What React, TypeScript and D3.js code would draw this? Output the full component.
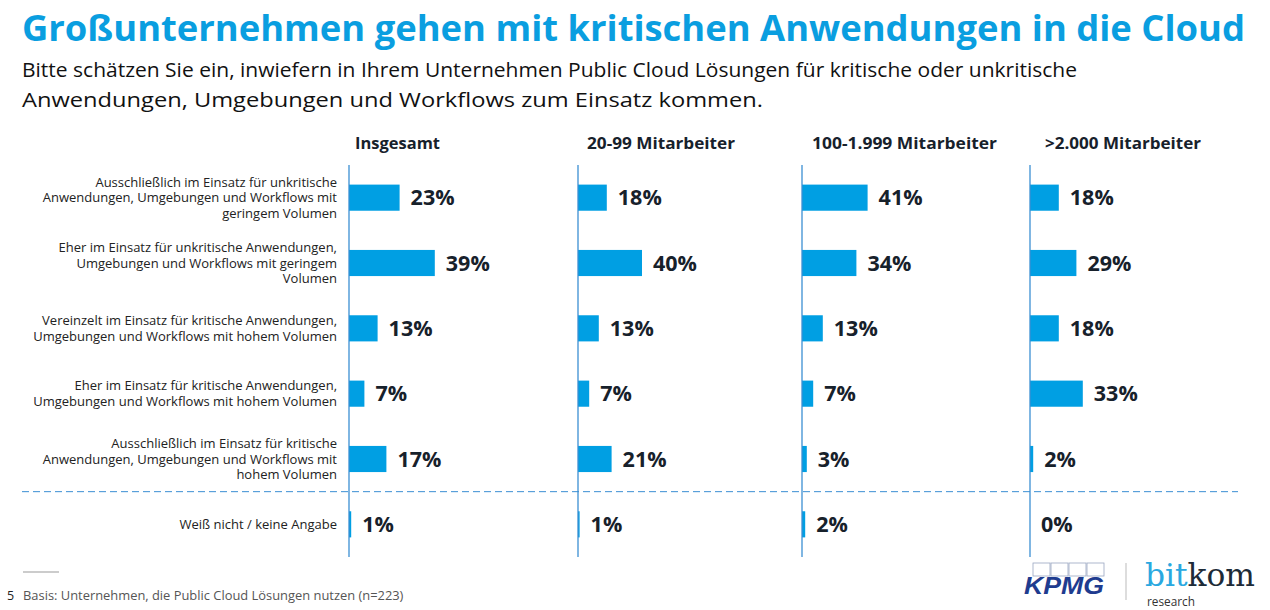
import React from "react";
import * as d3 from "d3";

const title = "Großunternehmen gehen mit kritischen Anwendungen in die Cloud";
const subtitleLines = [
  "Bitte schätzen Sie ein, inwiefern in Ihrem Unternehmen Public Cloud Lösungen für kritische oder unkritische",
  "Anwendungen, Umgebungen und Workflows zum Einsatz kommen.",
];
const categories = [
  "Ausschließlich im Einsatz für unkritische Anwendungen, Umgebungen und Workflows mit geringem Volumen",
  "Eher im Einsatz für unkritische Anwendungen, Umgebungen und Workflows mit geringem Volumen",
  "Vereinzelt im Einsatz für kritische Anwendungen, Umgebungen und Workflows mit hohem Volumen",
  "Eher im Einsatz für kritische Anwendungen, Umgebungen und Workflows mit hohem Volumen",
  "Ausschließlich im Einsatz für kritische Anwendungen, Umgebungen und Workflows mit hohem Volumen",
  "Weiß nicht / keine Angabe",
];
const categoryLines = [
  ["Ausschließlich im Einsatz für unkritische", "Anwendungen, Umgebungen und Workflows mit", "geringem Volumen"],
  ["Eher im Einsatz für unkritische Anwendungen,", "Umgebungen und Workflows mit geringem", "Volumen"],
  ["Vereinzelt im Einsatz für kritische Anwendungen,", "Umgebungen und Workflows mit hohem Volumen"],
  ["Eher im Einsatz für kritische Anwendungen,", "Umgebungen und Workflows mit hohem Volumen"],
  ["Ausschließlich im Einsatz für kritische", "Anwendungen, Umgebungen und Workflows mit", "hohem Volumen"],
  ["Weiß nicht / keine Angabe"],
];
const groups = ["Insgesamt", "20-99 Mitarbeiter", "100-1.999 Mitarbeiter", ">2.000 Mitarbeiter"];
const insgesamt = [23, 39, 13, 7, 17, 1];
const ma20_99 = [18, 40, 13, 7, 21, 1];
const ma100_1999 = [41, 34, 13, 7, 3, 2];
const ma2000 = [18, 29, 18, 33, 2, 0];
const seriesValues = [insgesamt, ma20_99, ma100_1999, ma2000];
const footnote = "Basis: Unternehmen, die Public Cloud Lösungen nutzen (n=223)";
const pageNumber = "5";

// layout
const panelX = [349, 578, 802, 1030];
const panelRange = [220, 160, 160, 160];
const headerOffset = [6, 9, 10, 15];
const headerWidth = [85, 148, 185, 156];
const BLUE = "#009fe3";
const AXIS = "#3b8fd3";
const DARK = "#17212b";
const FONT = "'Open Sans', 'Noto Sans', sans-serif";

export default function App() {
  const y = d3.scaleBand<string>().domain(categories).range([165, 557]).paddingInner(0.6).paddingOuter(0.3);
  const dashY = (y(categories[4])! + y(categories[5])!) / 2 + y.bandwidth() / 2;
  return (
    <svg width={1270} height={610} style={{ position: "absolute", left: 0, top: 0, background: "#fff" }} fontFamily={FONT}>
      <text x={22} y={41} fontSize={36} fontWeight={700} fill="#0a9ee0" textLength={1223} lengthAdjust="spacingAndGlyphs">
        {title}
      </text>
      {subtitleLines.map((s, i) => (
        <text key={i} x={22} y={77 + i * 30} fontSize={19.5} fill="#111" textLength={i === 0 ? 1055 : 741} lengthAdjust="spacingAndGlyphs">
          {s}
        </text>
      ))}
      {/* category labels */}
      {categories.map((c, i) => {
        const lines = categoryLines[i];
        const cy = y(c)! + y.bandwidth() / 2;
        const lh = 15.6;
        return (
          <text key={c} x={337} textAnchor="end" fontSize={13} fill="#222">
            {lines.map((l, j) => (
              <tspan key={j} x={337} y={cy + (j - (lines.length - 1) / 2) * lh + 4.5}>
                {l}
              </tspan>
            ))}
          </text>
        );
      })}
      {/* dashed separator */}
      <line x1={22} x2={1238} y1={dashY} y2={dashY} stroke={AXIS} strokeWidth={1} strokeDasharray="7,4" />
      {groups.map((g, gi) => {
        const x = d3.scaleLinear().domain([0, 100]).range([0, panelRange[gi]]);
        const x0 = panelX[gi];
        return (
          <g key={g} transform={`translate(${x0},0)`}>
            <text x={headerOffset[gi]} y={149} fontSize={16.5} fontWeight={700} fill={DARK} textLength={headerWidth[gi]} lengthAdjust="spacingAndGlyphs">
              {g}
            </text>
            {categories.map((c, i) => {
              const v = seriesValues[gi][i];
              const yy = y(c)!;
              return (
                <g key={c}>
                  <rect x={0} y={yy} width={x(v)} height={y.bandwidth()} fill={BLUE} />
                  <text x={x(v) + 11} y={yy + y.bandwidth() / 2 + 7.7} fontSize={21.5} fontWeight={700} fill={DARK}>
                    {v}%
                  </text>
                </g>
              );
            })}
            <line x1={0} x2={0} y1={165} y2={557} stroke={AXIS} strokeWidth={1.3} />
          </g>
        );
      })}
      {/* footer */}
      <line x1={23} x2={59} y1={572} y2={572} stroke="#999" strokeWidth={1} />
      <text x={7} y={600} fontSize={12.5} fill="#222">{pageNumber}</text>
      <text x={23} y={600} fontSize={12.9} fill="#555">{footnote}</text>
      {/* logos */}
      <g>
        {[0, 1, 2, 3].map((k) => (
          <rect key={k} x={1033 + k * 18} y={563} width={17} height={13} fill="none" stroke="#9aa6c0" strokeWidth={0.8} />
        ))}
        <text x={1024} y={594} fontSize={23} fontWeight={700} fontStyle="italic" fill="#1f3c8f" fontFamily="'Liberation Sans', Arial, sans-serif" textLength={80} lengthAdjust="spacingAndGlyphs">
          KPMG
        </text>
        <line x1={1126} x2={1126} y1={563} y2={600} stroke="#bbb" strokeWidth={1} />
        <text x={1145} y={586} fontSize={31} fontFamily="'DejaVu Serif', serif" textLength={110} lengthAdjust="spacingAndGlyphs">
          <tspan fill="#2aa8e0">bit</tspan>
          <tspan fill="#1d2b38">kom</tspan>
        </text>
        <text x={1147} y={606} fontSize={12} fill="#333" textLength={48} lengthAdjust="spacingAndGlyphs">
          research
        </text>
      </g>
    </svg>
  );
}
